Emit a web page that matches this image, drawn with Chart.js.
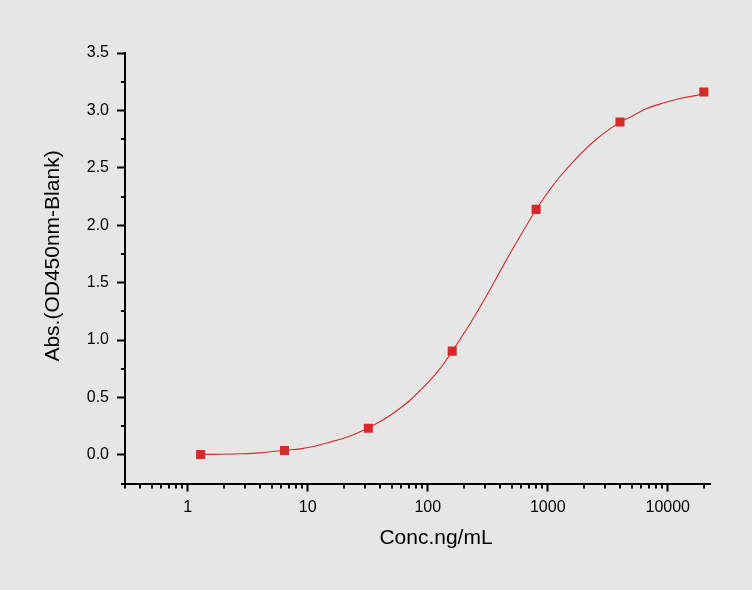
<!DOCTYPE html>
<html>
<head>
<meta charset="utf-8">
<script src="https://cdn.jsdelivr.net/npm/chart.js@4.4.1/dist/chart.umd.min.js"></script>
<style>
  html, body { margin: 0; padding: 0; background: #e6e6e6; }
  #wrap { width: 752px; height: 590px; }
</style>
</head>
<body>
<div id="wrap"><canvas id="c" width="752" height="590"></canvas></div>
<script>
// ---- measured points ----
const concentrations = [1.28, 6.4, 32, 160, 800, 4000, 20000];   // ng/mL
const absorbance     = [0.003, 0.037, 0.232, 0.903, 2.138, 2.899, 3.160];
// ---- fitted curve ----
const curveConc = [1.29, 1.63, 2.73, 4.0, 6.47, 8.63, 11.1, 15.3, 21.1, 31.6, 40.1, 48.5, 58.8, 71.2,
                   86.3, 104.5, 126.6, 143.9, 160.3, 225, 310, 427, 588, 799, 919, 1045, 1266, 1535,
                   1980, 2560, 3102, 4005, 4852, 6683, 9190, 12660, 17450, 19950];
const curveAbs  = [0.003, 0.004, 0.009, 0.017, 0.040, 0.052, 0.072, 0.110, 0.153, 0.232, 0.290, 0.342, 0.405, 0.475,
                   0.560, 0.648, 0.750, 0.830, 0.903, 1.142, 1.388, 1.650, 1.904, 2.135, 2.230, 2.312, 2.424, 2.524,
                   2.646, 2.751, 2.819, 2.898, 2.940, 3.016, 3.064, 3.103, 3.131, 3.144];
const xTickValues = [1, 10, 100, 1000, 10000];
const xTickLabels = ['1', '10', '100', '1000', '10000'];
const yTickValues = [0, 0.5, 1.0, 1.5, 2.0, 2.5, 3.0, 3.5];
const yTickLabels = ['0.0', '0.5', '1.0', '1.5', '2.0', '2.5', '3.0', '3.5'];
const xTitle = 'Conc.ng/mL';
const yTitle = 'Abs.(OD450nm-Blank)';

const X_MIN = 0.3, X_MAX = 22500, Y_MIN = -0.25, Y_MAX = 3.5;

// minor tick positions (axis decoration)
const xMinor = [];
for (let d = 0.1; d <= 10000; d *= 10) {
  for (let m = 2; m <= 9; m++) {
    const v = +(m * d).toPrecision(3);
    if (v >= X_MIN && v <= X_MAX) xMinor.push(v);
  }
}
if (xMinor.indexOf(0.3) < 0) xMinor.unshift(0.3);
const yMinor = [-0.25, 0.25, 0.75, 1.25, 1.75, 2.25, 2.75, 3.25];

const RED = '#d42a2a';
const FONT = '"Liberation Sans", Arial, sans-serif';

const decorPlugin = {
  id: 'decor',
  afterDraw(chart) {
    const { ctx, chartArea } = chart;
    const xs = chart.scales.x, ys = chart.scales.y;
    ctx.save();
    ctx.strokeStyle = '#000';
    ctx.lineWidth = 2;
    ctx.beginPath();
    const bottom = chartArea.bottom;
    xMinor.forEach(v => {
      const px = Math.round(xs.getPixelForValue(v));
      ctx.moveTo(px, bottom);
      ctx.lineTo(px, bottom + 5);
    });
    const left = chartArea.left;
    yMinor.forEach(v => {
      const py = Math.round(ys.getPixelForValue(v));
      ctx.moveTo(left, py);
      ctx.lineTo(left - 4, py);
    });
    ctx.stroke();

    // axis titles
    ctx.fillStyle = '#000';
    ctx.font = '21px ' + FONT;
    ctx.textAlign = 'center';
    ctx.textBaseline = 'alphabetic';
    ctx.fillText(xTitle, 436, 544);
    ctx.translate(58.5, 256);
    ctx.rotate(-Math.PI / 2);
    ctx.fillText(yTitle, 0, 0);
    ctx.restore();
  }
};

new Chart(document.getElementById('c'), {
  type: 'line',
  data: {
    datasets: [{
      label: 'measured',
      data: concentrations.map((c, i) => ({ x: c, y: absorbance[i] })),
      showLine: false,
      borderColor: RED,
      backgroundColor: RED,
      pointStyle: 'rect',
      pointRadius: 6.4,
      pointHoverRadius: 6.4,
      pointBorderWidth: 0,
      pointBackgroundColor: RED
    }, {
      label: 'fit',
      data: curveConc.map((c, i) => ({ x: c, y: curveAbs[i] })),
      borderColor: RED,
      borderWidth: 1.1,
      cubicInterpolationMode: 'monotone',
      pointRadius: 0,
      pointHoverRadius: 0,
      fill: false
    }]
  },
  options: {
    responsive: false,
    animation: false,
    events: [],
    layout: { padding: { top: 53, right: 42, bottom: 0, left: 0 } },
    plugins: { legend: { display: false }, tooltip: { enabled: false }, title: { display: false } },
    scales: {
      x: {
        type: 'logarithmic',
        min: X_MIN,
        max: X_MAX,
        afterFit(s) { s.height = 106.5; },
        afterBuildTicks(s) { s.ticks = xTickValues.map(v => ({ value: v })); },
        ticks: {
          autoSkip: false,
          maxRotation: 0,
          padding: 6,
          color: '#000',
          font: { family: FONT, size: 16 },
          callback(v) { const i = xTickValues.indexOf(v); return i >= 0 ? xTickLabels[i] : ''; }
        },
        grid: { display: true, drawOnChartArea: false, drawTicks: true, tickLength: 8, tickWidth: 2, tickColor: '#000' },
        border: { display: true, color: '#000', width: 2 }
      },
      y: {
        type: 'linear',
        min: Y_MIN,
        max: Y_MAX,
        afterFit(s) { s.width = 125; },
        afterBuildTicks(s) { s.ticks = yTickValues.map(v => ({ value: v })); },
        ticks: {
          autoSkip: false,
          padding: 8,
          color: '#000',
          font: { family: FONT, size: 16 },
          callback(v) { const i = yTickValues.indexOf(v); return i >= 0 ? yTickLabels[i] : ''; }
        },
        grid: { display: true, drawOnChartArea: false, drawTicks: true, tickLength: 8, tickWidth: 2, tickColor: '#000' },
        border: { display: true, color: '#000', width: 2 }
      }
    }
  },
  plugins: [decorPlugin]
});
</script>
</body>
</html>
